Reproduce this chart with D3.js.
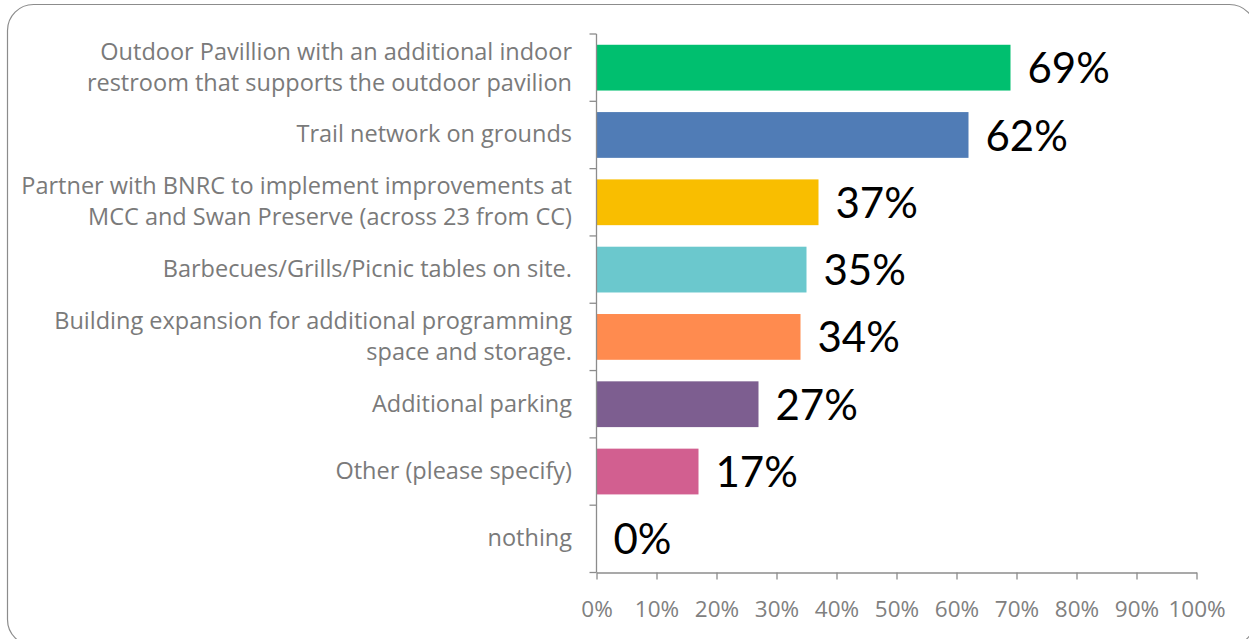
<!DOCTYPE html>
<html>
<head>
<meta charset="utf-8">
<script src="https://cdn.jsdelivr.net/npm/d3@7"></script>
<style>
  html, body { margin: 0; padding: 0; background: #fff; }
  svg { display: block; }
</style>
</head>
<body>
<svg id="chart" width="1249" height="639"></svg>
<script>
// Survey responses: share of respondents choosing each improvement
const categories = [
  ["Outdoor Pavillion with an additional indoor", "restroom that supports the outdoor pavilion"],
  ["Trail network on grounds"],
  ["Partner with BNRC to implement improvements at", "MCC and Swan Preserve (across 23 from CC)"],
  ["Barbecues/Grills/Picnic tables on site."],
  ["Building expansion for additional programming", "space and storage."],
  ["Additional parking"],
  ["Other (please specify)"],
  ["nothing"]
];
const values = [69, 62, 37, 35, 34, 27, 17, 0];
const barColors = ["#00BF6F", "#507CB6", "#F9BE00", "#6BC8CD", "#FF8B4F", "#7D5E90", "#D25F90", "#999999"];
const tickValues = [0, 10, 20, 30, 40, 50, 60, 70, 80, 90, 100];

const svg = d3.select("#chart");
const textFont = "'Open Sans', sans-serif";
const valueFont = "Lato, 'Open Sans', sans-serif";

// Rounded frame around the chart
svg.append("rect")
  .attr("x", 7.5).attr("y", 4.5)
  .attr("width", 1248).attr("height", 641)
  .attr("rx", 26).attr("ry", 26)
  .attr("fill", "none")
  .attr("stroke", "#8c8c8c")
  .attr("stroke-width", 1.2);

const x = d3.scaleLinear().domain([0, 100]).range([596.5, 1196.5]);
const y = d3.scaleBand()
  .domain(d3.range(categories.length))
  .range([34, 572.5])
  .paddingInner(0.32)
  .paddingOuter(0.16);

// Bars
svg.append("g").selectAll("rect")
  .data(values)
  .join("rect")
  .attr("x", x(0))
  .attr("y", (d, i) => y(i))
  .attr("width", d => x(d) - x(0))
  .attr("height", y.bandwidth())
  .attr("fill", (d, i) => barColors[i]);

// Value labels
svg.append("g").selectAll("text")
  .data(values)
  .join("text")
  .attr("x", d => x(d) + 17)
  .attr("y", (d, i) => y(i) + y.bandwidth() / 2)
  .attr("dy", "0.37em")
  .attr("font-family", valueFont)
  .attr("font-size", 42)
  .attr("fill", "#000")
  .text(d => d + "%");

// X axis
const xAxis = svg.append("g")
  .attr("transform", "translate(0,572.5)")
  .call(d3.axisBottom(x).tickValues(tickValues).tickFormat(d => d + "%").tickSize(7).tickSizeOuter(0));
xAxis.select(".domain").attr("stroke", "#8c8c8c").attr("stroke-width", 1.3);
xAxis.selectAll(".tick line").attr("stroke", "#8c8c8c").attr("stroke-width", 1.3);
xAxis.selectAll(".tick text")
  .attr("font-family", textFont)
  .attr("font-size", 22.5)
  .attr("fill", "#808080")
  .attr("y", 44)
  .attr("dy", "0");

// Y axis with ticks at band boundaries
const yAxisG = svg.append("g").attr("transform", "translate(596.5,0)");
yAxisG.append("line")
  .attr("y1", 34).attr("y2", 572.5)
  .attr("stroke", "#8c8c8c").attr("stroke-width", 1.3);
yAxisG.selectAll("line.tk")
  .data(d3.range(categories.length + 1))
  .join("line")
  .attr("class", "tk")
  .attr("x1", -7).attr("x2", 0)
  .attr("y1", i => 34 + i * y.step())
  .attr("y2", i => 34 + i * y.step())
  .attr("stroke", "#8c8c8c").attr("stroke-width", 1.3);

// Category labels
const labelSize = 23.5;
const lineH = 31;
const labels = svg.append("g").selectAll("text")
  .data(categories)
  .join("text")
  .attr("font-family", textFont)
  .attr("font-size", labelSize)
  .attr("fill", "#7a7a7a")
  .attr("text-anchor", "end")
  .attr("x", 572)
  .attr("y", (d, i) => y(i) + y.bandwidth() / 2 - 1);
labels.selectAll("tspan")
  .data(d => d.map((t, k) => ({ t, k, n: d.length })))
  .join("tspan")
  .attr("x", 572)
  .attr("dy", d => d.k === 0 ? (-(d.n - 1) / 2 * lineH + 0.36 * labelSize) : lineH)
  .text(d => d.t);
</script>
</body>
</html>
